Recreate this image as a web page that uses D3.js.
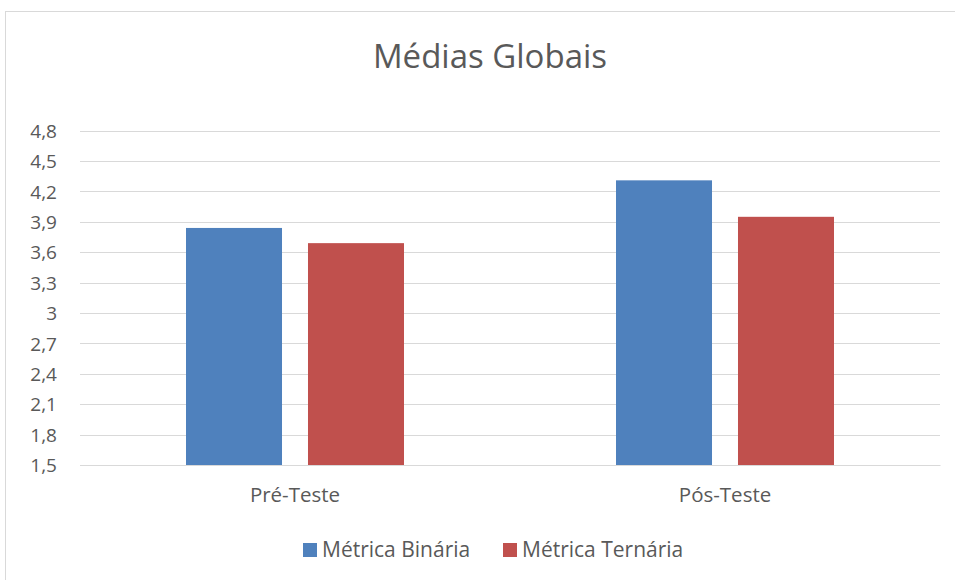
<!DOCTYPE html>
<html><head><meta charset="utf-8">
<script src="https://cdn.jsdelivr.net/npm/d3@7"></script>
<style>body{margin:0;background:#fff}svg{display:block}text{font-family:"Open Sans","Liberation Sans",sans-serif;fill:#595959}</style>
</head><body><svg id="c" width="955" height="580"></svg>
<script>
const categories = ["Pré-Teste", "Pós-Teste"];
const seriesNames = ["Métrica Binária", "Métrica Ternária"];
const binaria = [3.84, 4.31];
const ternaria = [3.69, 3.95];
const yTicks = [1.5, 1.8, 2.1, 2.4, 2.7, 3, 3.3, 3.6, 3.9, 4.2, 4.5, 4.8];
const colors = ["#4f81bd", "#c0504d"];

const svg = d3.select("#c");
svg.append("rect").attr("x", 5.5).attr("y", 11.5).attr("width", 960).attr("height", 600)
  .attr("fill", "#fff").attr("stroke", "#d9d9d9").attr("stroke-width", 1);

const L = 80, R = 940, T = 130.7, B = 465;
const y = d3.scaleLinear().domain([1.5, 4.8]).range([B, T]);
const x0 = d3.scaleBand().domain(categories).range([L, R]).paddingInner(0).paddingOuter(0);
const x1 = d3.scaleBand().domain(seriesNames).range([106, 430 - 106]).paddingInner(0.213);

// gridlines
svg.append("g").selectAll("line").data(yTicks).join("line")
  .attr("x1", L).attr("x2", R).attr("y1", d => Math.round(y(d)) + 0.5).attr("y2", d => Math.round(y(d)) + 0.5)
  .attr("stroke", "#d9d9d9").attr("stroke-width", 1);

// y axis labels
const yAxis = d3.axisLeft(y).tickValues(yTicks).tickSize(0).tickPadding(0)
  .tickFormat(d => String(d).replace(".", ","));
const ya = svg.append("g").attr("transform", `translate(${L - 23},0)`).call(yAxis);
ya.select(".domain").remove();
ya.selectAll("text").style("font-size", "19px").attr("fill", "#595959").attr("dy", "0.35em");

// bars
const data = categories.map((c, i) => ({c, vals: [binaria[i], ternaria[i]]}));
const groups = svg.append("g").selectAll("g").data(data).join("g")
  .attr("transform", d => `translate(${x0(d.c)},0)`);
groups.selectAll("rect").data(d => d.vals.map((v, j) => ({s: seriesNames[j], v, j}))).join("rect")
  .attr("x", d => x1(d.s)).attr("width", x1.bandwidth())
  .attr("y", d => y(d.v)).attr("height", d => B - y(d.v))
  .attr("fill", d => colors[d.j]);

// x axis
const xAxis = d3.axisBottom(x0).tickSize(0).tickPadding(0);
const xa = svg.append("g").attr("transform", `translate(0,${B})`).call(xAxis);
xa.select(".domain").attr("stroke", "#d9d9d9");
xa.selectAll("text").style("font-size", "20.5px").attr("fill", "#595959").attr("dy", "0").attr("y", 37);

// title
svg.append("text").attr("x", 490).attr("y", 68).attr("text-anchor", "middle")
  .style("font-size", "33px").text("Médias Globais");

// legend
const leg = svg.append("g");
const legX = [303, 503];
seriesNames.forEach((s, i) => {
  leg.append("rect").attr("x", legX[i]).attr("y", 543).attr("width", 14).attr("height", 14).attr("fill", colors[i]);
  leg.append("text").attr("x", legX[i] + 19).attr("y", 557).style("font-size", "21px").text(s);
});
</script></body></html>
